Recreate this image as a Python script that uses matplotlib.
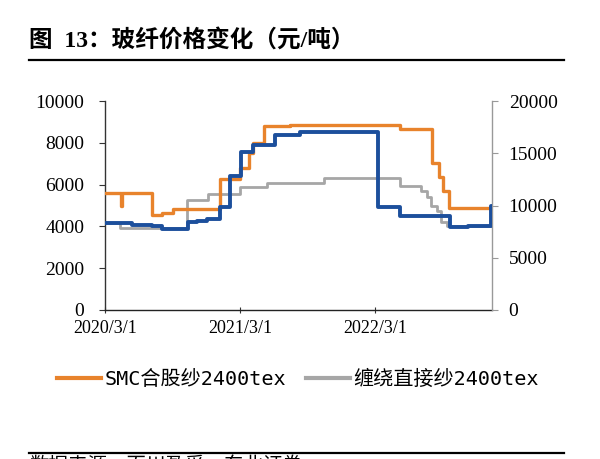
import matplotlib
matplotlib.use("Agg")
import matplotlib.pyplot as plt
from matplotlib.lines import Line2D
from matplotlib.font_manager import FontProperties
import pandas as pd

# ---------------- data ----------------
smc_dates = ["2020-03-01", "2020-04-12", "2020-04-16", "2020-07-06", "2020-08-02",
             "2020-09-01", "2021-01-06", "2021-03-01", "2021-03-25", "2021-04-05",
             "2021-05-05", "2021-07-14", "2022-05-08", "2022-08-02", "2022-08-21",
             "2022-09-01", "2022-09-17", "2023-01-12"]
smc_values = [5600, 5000, 5600, 4550, 4650,
              4820, 6250, 6800, 7500, 8000,
              8800, 8850, 8650, 7050, 6350,
              5700, 4900, 4900]

wind_dates = ["2020-03-01", "2020-04-11", "2020-10-09", "2020-12-05", "2021-03-01",
              "2021-05-12", "2021-10-14", "2022-05-08", "2022-07-05", "2022-07-19",
              "2022-08-01", "2022-08-15", "2022-08-28", "2022-09-12", "2023-01-12"]
wind_values = [4150, 3900, 5250, 5550, 5900,
               6100, 6300, 5950, 5700, 5400,
               5000, 4750, 4200, 4000, 4000]

elec_dates = ["2020-03-01", "2020-05-12", "2020-07-05", "2020-08-01", "2020-10-11",
              "2020-11-04", "2020-12-01", "2021-01-06", "2021-02-02", "2021-03-03",
              "2021-04-05", "2021-06-04", "2021-08-10", "2022-03-10", "2022-05-09",
              "2022-09-20", "2022-11-08", "2023-01-08", "2023-01-12"]
elec_values = [8300, 8150, 8050, 7750, 8400,
               8550, 8700, 9850, 12850, 15100,
               15750, 16750, 17000, 9900, 8950,
               7900, 8050, 10000, 10000]

xtick_labels = ["2020/3/1", "2021/3/1", "2022/3/1"]
xtick_dates = ["2020-03-01", "2021-03-01", "2022-03-01"]
left_ticks = [0, 2000, 4000, 6000, 8000, 10000]
right_ticks = [0, 5000, 10000, 15000, 20000]
series_names = ["SMC合股纱2400tex", "缠绕直接纱2400tex"]

title_text = "图  13：玻纤价格变化（元/吨）"
source_text = "数据来源：百川盈孚，东北证券"

# ---------------- style ----------------
ORANGE = "#E8832C"
GRAY = "#A6A6A6"
BLUE = "#1C4F9C"
serif = ["Liberation Serif", "Noto Sans CJK SC"]
cjk = ["Noto Sans CJK SC", "DejaVu Sans"]
mono_cjk = ["DejaVu Sans Mono", "Noto Sans CJK SC"]

W, H = 600, 459
fig = plt.figure(figsize=(W / 100, H / 100), dpi=100)
fig.patch.set_facecolor("white")

L, R, B, T = 105, 492, 310, 101
ax = fig.add_axes([L / W, 1 - B / H, (R - L) / W, (B - T) / H])
ax2 = ax.twinx()

to_dt = lambda s: pd.to_datetime(s)

l1, = ax.step(to_dt(smc_dates), smc_values, where="post", color=ORANGE, lw=2.4,
              label=series_names[0], zorder=3)
l2, = ax.step(to_dt(wind_dates), wind_values, where="post", color=GRAY, lw=2.0,
              label=series_names[1], zorder=2)
l3, = ax2.step(to_dt(elec_dates), elec_values, where="post", color=BLUE, lw=2.8,
               zorder=3)

ax.set_xlim(pd.Timestamp("2020-03-01"), pd.Timestamp("2023-01-12"))
ax.set_ylim(0, 10000)
ax2.set_ylim(0, 20000)

ax.set_xticks(to_dt(xtick_dates))
ax.set_xticklabels(xtick_labels)
ax.set_yticks(left_ticks)
ax2.set_yticks(right_ticks)

for a in (ax, ax2):
    a.spines["top"].set_visible(False)
    a.set_facecolor("none")
ax.spines["right"].set_visible(False)
ax2.spines["left"].set_visible(False)
ax2.spines["bottom"].set_visible(False)
ax.spines["left"].set_color("#333333")
ax.spines["bottom"].set_color("#222222")
ax2.spines["right"].set_color("#999999")
for s in ("left", "bottom"):
    ax.spines[s].set_linewidth(1.0)
ax2.spines["right"].set_linewidth(1.0)

ax.tick_params(axis="y", direction="out", length=4, pad=11, labelsize=14,
               color="#333333")
ax.tick_params(axis="x", direction="inout", length=5, pad=5, labelsize=13,
               color="#333333")
ax2.tick_params(axis="y", direction="out", length=4, pad=8, labelsize=14,
                color="#999999")
for lab in ax.get_yticklabels() + ax.get_xticklabels() + ax2.get_yticklabels():
    lab.set_fontfamily(serif)

# title
fig.text(29 / W, 1 - 40 / H, title_text, fontsize=17, fontweight="bold",
         family=serif, ha="left", va="center")
fig.add_artist(Line2D([29 / W, 564 / W], [1 - 60 / H] * 2, color="black", lw=1.6))

# legend
leg = fig.legend(handles=[l1, l2], loc="center", bbox_to_anchor=(298 / W, 1 - 379 / H),
                 ncol=2, frameon=False, handlelength=2.2, handletextpad=0.15,
                 columnspacing=1.0, prop=FontProperties(family=mono_cjk, size=14.5))
for h in leg.legend_handles:
    h.set_linewidth(3)

# bottom rule and source (cut by the lower edge, as in the reference)
fig.add_artist(Line2D([29 / W, 564 / W], [1 - 453 / H] * 2, color="black", lw=1.6))
fig.text(29 / W, 1 - 455 / H, source_text, fontsize=14, family=cjk,
         ha="left", va="top")

fig.savefig("out.png", dpi=100)
